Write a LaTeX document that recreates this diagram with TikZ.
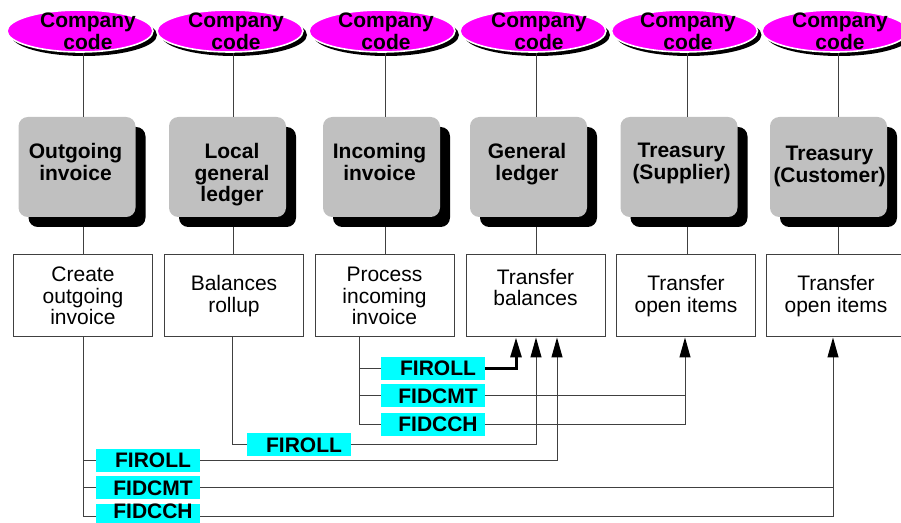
\documentclass[tikz,border=0pt]{standalone}
\usepackage{fontspec}
\setmainfont{Liberation Sans}
\usetikzlibrary{arrows.meta,shapes.geometric,calc}
\definecolor{mag}{HTML}{FF00FF}
\definecolor{cyn}{HTML}{00FFFF}
\definecolor{gbox}{HTML}{C0C0C0}
\definecolor{ln}{HTML}{404040}
\newcommand\bfsz{\fontsize{15.75pt}{16.3pt}\selectfont\bfseries}
\newcommand\rgsz{\fontsize{15.75pt}{16pt}\selectfont}
\tikzset{
 ccell/.style={ellipse, fill=mag, draw=white, line width=1.2pt, minimum width=109.5pt, minimum height=31.5pt, inner sep=0pt},
 cshadow/.style={ellipse, fill=black, minimum width=109.5pt, minimum height=31.5pt, inner sep=0pt},
 ctext/.style={font=\bfsz, align=center, inner sep=0pt},
 gbx/.style={rectangle, rounded corners=7pt, fill=gbox, minimum width=87.75pt, minimum height=75pt, inner sep=0pt},
 gshadow/.style={gbx, fill=black},
 gtext/.style={font=\bfsz, align=center, inner sep=0pt, anchor=north},
 wbx/.style={rectangle, draw=ln, line width=0.75pt, fill=white, minimum width=104.25pt, minimum height=61.5pt, inner sep=0pt, font=\rgsz, align=center},
 lbl/.style={rectangle, fill=cyn, minimum width=78pt, minimum height=17.25pt, inner sep=0pt, font=\bfsz},
 conn/.style={draw=ln, line width=0.75pt},
 arr/.style={conn, -{Triangle[width=8.25pt,length=15pt,black]}},
}
\begin{document}
\begin{tikzpicture}[x=0.75pt,y=-0.75pt]
\useasboundingbox (0,0) rectangle (901,523);
% column coordinates
\coordinate (k1) at (83,0);
\coordinate (k2) at (233,0);
\coordinate (k3) at (385,0);
\coordinate (k4) at (536,0);
\coordinate (k5) at (687,0);
\coordinate (k6) at (838,0);
% ellipses
\foreach \i/\e/\t in {1/80/88,2/230/236,3/382/386,4/533/539,5/684.5/688,6/835/840}{
  \node[cshadow] (es\i) at (\e+4,35) {};
  \node[ccell] (e\i) at (\e,31) {};
  \node[ctext] (t\i) at (\t,31.5) {Company\\code};
}
% grey boxes
\foreach \i/\g/\tx/\ty/\txt in {1/77/75.5/143/{Outgoing\\invoice},2/227.5/232/143/{Local\\general\\ledger},3/381.5/379.5/143/{Incoming\\invoice},4/528.5/527/143/{General\\ledger},5/679/681.5/143/{Treasury\\(Supplier)},6/828.5/829.5/146/{Treasury\\(Customer)}}{
  \node[gshadow] (gs\i) at (\g+10,177) {};
  \node[gbx] (g\i) at (\g,167) {};
  \node[gtext] (gt\i) at (\tx,\ty) {\txt};
}
% white boxes
\node[wbx] (w1) at (83,296) {Create\\outgoing\\invoice};
\node[wbx] (w2) at (234,296) {Balances\\rollup};
\node[wbx] (w3) at (384.5,296) {Process\\incoming\\invoice};
\node[wbx, text depth=13pt] (w4) at (535.5,296) {Transfer\\balances};
\node[wbx] (w5) at (686,296) {Transfer\\open items};
\node[wbx] (w6) at (836,296) {Transfer\\open items};
% vertical links top
\foreach \i in {1,...,6}{
  \draw[conn] (k\i |- e\i.south) -- (k\i |- g\i.north);
  \draw[conn] (k\i |- gs\i.south) -- (k\i |- w\i.north);
}
% labels
\node[lbl] (lA1) at (433,368.5) {\hspace*{7.5pt}FIROLL};
\node[lbl] (lA2) at (433,396) {\hspace*{7.5pt}FIDCMT};
\node[lbl] (lA3) at (433,424.5) {\hspace*{7.5pt}FIDCCH};
\node[lbl] (lB) at (299,445) {\hspace*{7.5pt}FIROLL};
\node[lbl] (lC1) at (148,460.5) {\hspace*{7.5pt}FIROLL};
\node[lbl] (lC2) at (148,488) {\hspace*{7.5pt}FIDCMT};
\node[lbl, minimum height=14.25pt, text depth=3pt] (lC3) at (148,513.5) {\hspace*{7.5pt}FIDCCH};
% connector coordinates
\coordinate (v2) at (232,0);
\coordinate (v3) at (359,0);
\coordinate (a1) at (516,0);
\coordinate (a2) at (536,0);
\coordinate (a3) at (557,0);
\coordinate (a5) at (685,0);
\coordinate (a6) at (833,0);
\coordinate (yc3) at (0,517);
% group A
\draw[conn] (w3.south -| v3) |- (lA3.west);
\draw[conn] (v3 |- lA1) -- (lA1.west);
\draw[conn] (v3 |- lA2) -- (lA2.west);
\draw[arr, draw=black, line width=2.25pt] (lA1.east) -| (w4.south -| a1);
\draw[arr] (lA2.east) -| (w5.south -| a5);
\draw[conn] (lA3.east) -| (a5 |- lA2);
% group B
\draw[conn] (w2.south -| v2) |- (lB.west);
\draw[arr] (lB.east) -| (w4.south -| a2);
% group C
\draw[conn] (w1.south) |- (lC3.west |- yc3);
\draw[conn] (w1.south |- lC1) -- (lC1.west);
\draw[conn] (w1.south |- lC2) -- (lC2.west);
\draw[arr] (lC1.east) -| (w4.south -| a3);
\draw[arr] (lC2.east) -| (w6.south -| a6);
\draw[conn] (lC3.east |- yc3) -| (a6 |- lC2);
\end{tikzpicture}
\end{document}
